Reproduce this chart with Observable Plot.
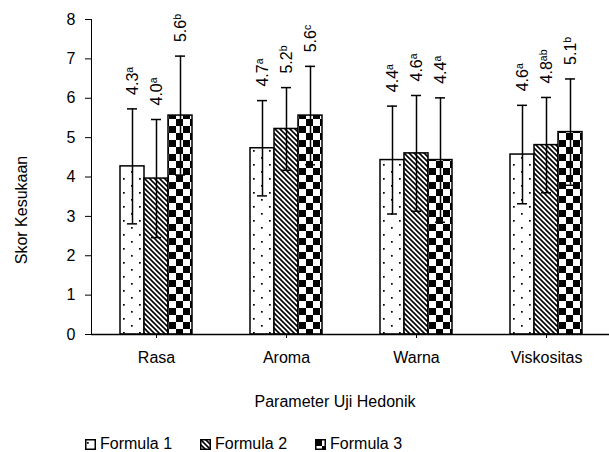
<!DOCTYPE html>
<html><head><meta charset="utf-8">
<script src="https://cdn.jsdelivr.net/npm/d3@7"></script>
<script src="https://cdn.jsdelivr.net/npm/@observablehq/plot@0.6"></script>
<style>
html,body{margin:0;padding:0;background:#fff;overflow:hidden;}
body{font-family:"Liberation Sans",Arial,sans-serif;color:#000;}
#wrap{position:relative;width:612px;height:452px;overflow:hidden;}
#chart{position:absolute;left:0;top:0;}
.lbl{position:absolute;font-size:16px;line-height:16px;white-space:nowrap;}
#ylab{left:22px;top:210px;transform:translate(-50%,-50%) rotate(-90deg);}
#xlab{left:335px;top:394px;transform:translateX(-50%);}
#legend{position:absolute;left:85px;top:436px;display:flex;align-items:center;font-size:16px;line-height:16px;}
#legend .item{display:flex;align-items:center;margin-right:28px;}
#legend svg{margin-right:4px;display:block;}
</style></head>
<body>
<svg width="0" height="0" style="position:absolute">
<defs>
<pattern id="pDots" patternUnits="userSpaceOnUse" width="16" height="14">
<rect width="16" height="14" fill="#fff"/>
<rect x="2" y="3" width="1.7" height="1.7" fill="#000"/>
<rect x="10" y="10" width="1.7" height="1.7" fill="#000"/>
</pattern>
<pattern id="pDiag" patternUnits="userSpaceOnUse" width="5" height="5">
<rect width="5" height="5" fill="#fff"/>
<path d="M-1,-1 L6,6 M-1,4 L1,6 M4,-1 L6,1" stroke="#000" stroke-width="1.6"/>
</pattern>
<pattern id="pCheck" patternUnits="userSpaceOnUse" width="14" height="14">
<rect width="14" height="14" fill="#fff"/>
<rect width="7" height="7" fill="#000"/>
<rect x="7" y="7" width="7" height="7" fill="#000"/>
</pattern>
</defs>
</svg>
<div id="wrap">
<div id="chart"></div>
<div class="lbl" id="ylab">Skor Kesukaan</div>
<div class="lbl" id="xlab">Parameter Uji Hedonik</div>
<div id="legend"></div>
</div>
<script>
// ---- data ----
const parameters = ["Rasa", "Aroma", "Warna", "Viskositas"];
const formulas = ["Formula 1", "Formula 2", "Formula 3"];
const meanF1 = [4.27, 4.73, 4.43, 4.57];
const meanF2 = [3.96, 5.22, 4.60, 4.81];
const meanF3 = [5.56, 5.56, 4.43, 5.14];
const sdF1 = [1.46, 1.21, 1.37, 1.25];
const sdF2 = [1.50, 1.05, 1.47, 1.21];
const sdF3 = [1.51, 1.25, 1.58, 1.35];
const letterF1 = ["a", "a", "a", "a"];
const letterF2 = ["a", "b", "a", "ab"];
const letterF3 = ["b", "c", "a", "b"];
const yTicks = [0, 1, 2, 3, 4, 5, 6, 7, 8];
const fills = ["url(#pDots)", "url(#pDiag)", "url(#pCheck)"];

const means = [meanF1, meanF2, meanF3];
const sds = [sdF1, sdF2, sdF3];
const letters = [letterF1, letterF2, letterF3];
const rows = [];
parameters.forEach((p, i) => {
  formulas.forEach((f, j) => {
    rows.push({param: p, formula: f, mean: means[j][i], sd: sds[j][i], letter: letters[j][i]});
  });
});

const chart = Plot.plot({
  width: 612,
  height: 370,
  marginLeft: 90,
  marginRight: 0,
  marginTop: 19,
  marginBottom: 36,
  style: {fontFamily: '"Liberation Sans", Arial, sans-serif', fontSize: "16px", color: "#000", background: "transparent", overflow: "visible"},
  facet: {data: rows, x: "param"},
  fx: {domain: parameters, padding: 0, label: null, tickSize: 4, tickPadding: 13},
  x: {domain: formulas, paddingInner: 0, paddingOuter: 1.18, axis: null},
  y: {domain: [0, 8], ticks: yTicks, tickSize: 6, tickPadding: 10, label: null, line: true},
  color: {domain: formulas, range: fills},
  marks: [
    Plot.barY(rows, {x: "formula", y: "mean", fill: "formula", stroke: "#000", strokeWidth: 1.5}),
    Plot.ruleX(rows, {x: "formula", y1: d => d.mean - d.sd, y2: d => d.mean + d.sd, stroke: "#000", strokeWidth: 1.5}),
    Plot.tickY(rows, {x: "formula", y: d => d.mean + d.sd, stroke: "#000", strokeWidth: 1.5, insetLeft: 7, insetRight: 7}),
    Plot.tickY(rows, {x: "formula", y: d => d.mean - d.sd, stroke: "#000", strokeWidth: 1.5, insetLeft: 7, insetRight: 7}),
    Plot.text(rows, {x: "formula", y: d => d.mean + d.sd, text: d => d.mean.toFixed(1) + "^" + d.letter, rotate: -90, textAnchor: "start", dy: -14, fontSize: 16}),
    Plot.ruleY([0], {stroke: "#000", strokeWidth: 1.5})
  ]
});
chart.style.maxWidth = "none";
// superscript letters
chart.querySelectorAll("text").forEach(t => {
  const s = t.textContent;
  if (s.includes("^")) {
    const [v, l] = s.split("^");
    t.textContent = "";
    const a = document.createElementNS("http://www.w3.org/2000/svg", "tspan");
    a.textContent = v;
    const b = document.createElementNS("http://www.w3.org/2000/svg", "tspan");
    b.textContent = l;
    b.setAttribute("font-size", "10.5");
    b.setAttribute("dy", "-0.45em");
    t.appendChild(a); t.appendChild(b);
  }
});
document.getElementById("chart").appendChild(chart);

// legend
const lg = document.getElementById("legend");
formulas.forEach((f, j) => {
  const item = document.createElement("div");
  item.className = "item";
  item.innerHTML = `<svg width="11" height="11"><rect x="0.75" y="0.75" width="9.5" height="9.5" fill="${fills[j]}" stroke="#000" stroke-width="1.5"/></svg><span>${f}</span>`;
  lg.appendChild(item);
});
</script>
</body></html>
